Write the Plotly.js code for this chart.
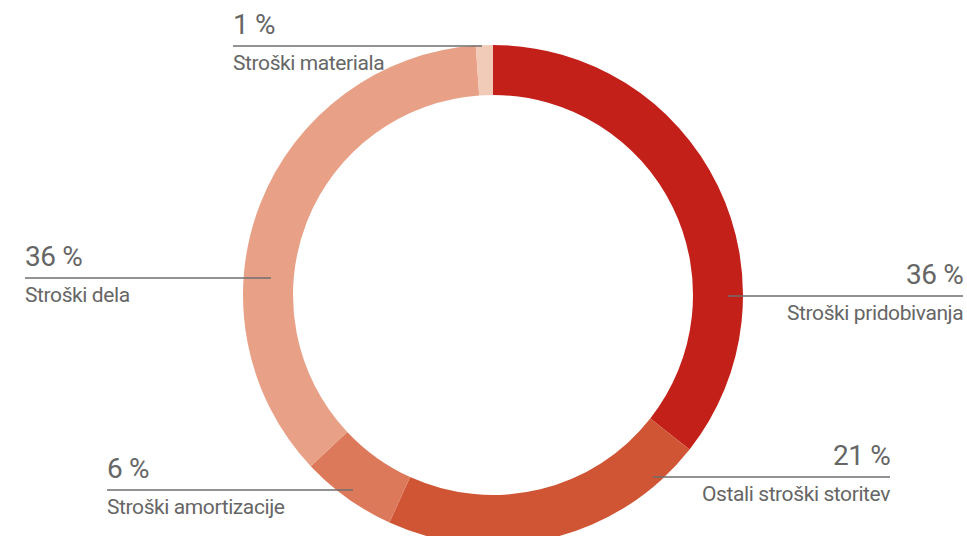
<!DOCTYPE html>
<html>
<head>
<meta charset="utf-8">
<script src="https://cdn.plot.ly/plotly-3.0.1.min.js"></script>
<style>
html,body{margin:0;padding:0;overflow:hidden;background:#fff;width:967px;height:536px;}
#chart{width:967px;height:600px;}
.annotation-text{letter-spacing:-0.4px;}
</style>
</head>
<body>
<div id="chart"></div>
<script>
// Data
const categories = ["Stroški pridobivanja", "Ostali stroški storitev", "Stroški amortizacije", "Stroški dela", "Stroški materiala"];
const values = [35.6, 21.2, 6.2, 35.9, 1.1];
const colors = ["#c4201a", "#d05535", "#dc795a", "#e8a086", "#f2cab8"];

// Label layout (pixel positions): line from x0 to x1 at y, text aligned to side
const labelPos = [
  {x0: 728, x1: 963, y: 296, side: "right"},
  {x0: 653, x1: 890, y: 477, side: "right"},
  {x0: 107, x1: 353, y: 490, side: "left"},
  {x0: 25,  x1: 271, y: 278, side: "left"},
  {x0: 233, x1: 482, y: 46,  side: "left"}
];

const W = 967, H = 600;
const cx = 493, cy = 295, R = 250;
const px = x => x / W;
const py = y => 1 - y / H;
const font = "'Liberation Sans Narrow', 'Arial Narrow', Roboto, sans-serif";
const textColor = "#666666";

const shapes = [];
const annotations = [];
labelPos.forEach((p, i) => {
  shapes.push({type: "line", xref: "paper", yref: "paper",
    x0: px(p.x0), x1: px(p.x1), y0: py(p.y), y1: py(p.y),
    line: {color: "#6e6e6e", width: 1.5}});
  const ax = p.side === "left" ? px(p.x0) : px(p.x1);
  const xa = p.side === "left" ? "left" : "right";
  annotations.push({xref: "paper", yref: "paper", x: ax, y: py(p.y - 3),
    xanchor: xa, yanchor: "bottom", showarrow: false,
    text: Math.round(values[i]) + " %", font: {family: font, size: 28, color: textColor},
    xshift: p.side === "left" ? -2 : 2});
  annotations.push({xref: "paper", yref: "paper", x: ax, y: py(p.y + 3),
    xanchor: xa, yanchor: "top", showarrow: false,
    text: categories[i], font: {family: font, size: 21, color: textColor},
    xshift: p.side === "left" ? -2 : 2});
});

const data = [{
  type: "pie",
  labels: categories,
  values: values,
  marker: {colors: colors, line: {width: 0}},
  hole: 0.8,
  sort: false,
  direction: "clockwise",
  rotation: 0,
  textinfo: "none",
  hoverinfo: "label+percent",
  domain: {x: [px(cx - R), px(cx + R)], y: [py(cy + R), py(cy - R)]}
}];

const layout = {
  width: W, height: H,
  margin: {l: 0, r: 0, t: 0, b: 0, pad: 0},
  showlegend: false,
  paper_bgcolor: "#ffffff",
  shapes: shapes,
  annotations: annotations
};

Plotly.newPlot("chart", data, layout, {displayModeBar: false, staticPlot: true});
</script>
</body>
</html>
